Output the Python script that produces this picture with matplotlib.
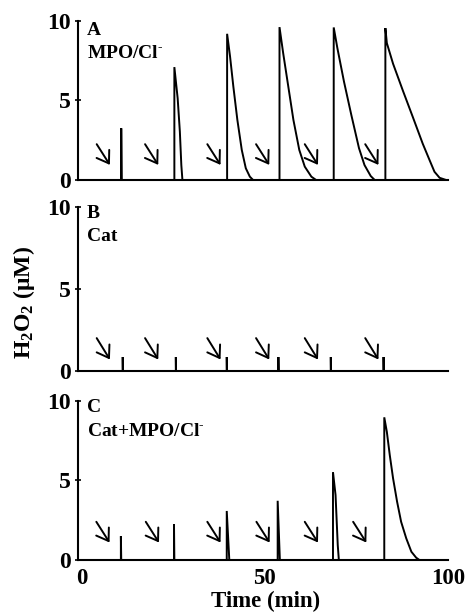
import matplotlib
matplotlib.use("Agg")
import matplotlib.pyplot as plt

plt.rcParams['font.family'] = ['Liberation Serif', 'DejaVu Serif']
plt.rcParams['font.weight'] = 'bold'
plt.rcParams['mathtext.fontset'] = 'custom'
plt.rcParams['mathtext.rm'] = 'Liberation Serif:bold'
plt.rcParams['mathtext.default'] = 'rm'

# panel A: MPO/Cl-  (time in min, H2O2 in uM)
tA = [0, 10.8, 10.8, 10.9,
      25.3, 25.3, 26.2, 26.8, 27.2, 27.5,
      39.7, 39.7, 40.5, 41.4, 42.5, 43.7, 44.8, 45.9, 46.8,
      54.0, 54.0, 55.0, 56.4, 57.8, 59.4, 60.9, 62.7, 64.0,
      68.8, 68.8, 69.8, 71.6, 73.6, 75.7, 77.2, 78.9, 80.0,
      82.9, 82.9, 83.3, 85.0, 87.7, 90.4, 93.1, 95.0, 96.3, 97.7, 99.5]
yA = [0, 0, 3.25, 0,
      0, 7.09, 5.13, 3.04, 0.94, 0,
      0, 9.18, 7.76, 5.87, 3.77, 1.89, 0.74, 0.21, 0,
      0, 9.6, 7.97, 5.87, 3.77, 1.89, 0.84, 0.21, 0,
      0, 9.58, 8.28, 6.18, 4.09, 2.0, 0.94, 0.25, 0,
      0, 9.54, 8.6, 7.3, 5.6, 3.95, 2.28, 1.23, 0.52, 0.14, 0]

# panel B: Cat
tB = [0, 11.2, 11.2, 11.25, 25.7, 25.7, 25.75, 39.6, 39.6, 39.65,
      53.7, 53.7, 53.75, 68.0, 68.0, 68.05, 82.4, 82.4, 82.45, 100]
yB = [0, 0, 0.85, 0, 0, 0.85, 0, 0, 0.85, 0,
      0, 0.85, 0, 0, 0.85, 0, 0, 0.85, 0, 0]

# panel C: Cat+MPO/Cl-
tC = [0, 10.7, 10.7, 10.8, 25.2, 25.2, 25.3, 39.6, 39.6, 40.3,
      53.5, 53.5, 54.1,
      68.6, 68.6, 69.3, 69.9, 70.2,
      82.6, 82.6, 83.3, 84.1, 85.0, 86.1, 87.2, 88.6, 90.0, 91.3, 92.2, 100]
yC = [0, 0, 1.5, 0, 0, 2.24, 0, 0, 3.08, 0,
      0, 3.72, 0,
      0, 5.52, 4.08, 0.94, 0,
      0, 8.96, 8.05, 6.59, 5.13, 3.66, 2.40, 1.36, 0.52, 0.15, 0, 0]

# addition times marked by arrows (tail x) and arrow tail height
arrowsA = [4.1, 17.3, 34.3, 47.6, 60.9, 77.4]
arrowsB = [4.1, 17.3, 34.3, 47.6, 60.9, 77.4]
arrowsC = [4.0, 17.5, 34.3, 47.7, 60.9, 74.1]
arrow_yA, arrow_yB, arrow_yC = 2.25, 2.0, 2.4

letters = ['A', 'B', 'C']
names = ['MPO/Cl$^{\u2010}$', 'Cat', 'Cat+MPO/Cl$^{\u2010}$']

fig = plt.figure(figsize=(4.68, 6.14), dpi=100)
axA = fig.add_axes([0.1667, 0.7068, 0.7906, 0.2594])
axB = fig.add_axes([0.1667, 0.3958, 0.7906, 0.2676])
axC = fig.add_axes([0.1667, 0.0879, 0.7906, 0.2594])

panels = [(axA, tA, yA, arrowsA, arrow_yA, 0.94, 0.797),
          (axB, tB, yB, arrowsB, arrow_yB, 0.96, 0.82),
          (axC, tC, yC, arrowsC, arrow_yC, 0.957, 0.805)]

for i, (ax, t, y, arr, ay, ly, ny) in enumerate(panels):
    ax.plot(t, y, color='k', lw=1.4, solid_joinstyle='miter')
    for a in arr:
        ax.annotate('', xy=(a + 3.6, ay - 1.3), xytext=(a, ay),
                    arrowprops=dict(arrowstyle='->,head_length=0.45,head_width=0.3',
                                    color='k', lw=1.4, mutation_scale=18,
                                    shrinkA=0, shrinkB=0))
    ax.set_xlim(-1, 100)
    ax.set_ylim(0, 10)
    ax.set_yticks([0, 5, 10])
    ax.set_yticklabels(['0', '5', '10'], fontsize=17, fontweight='bold')
    ax.tick_params(axis='y', direction='inout', length=5, width=1.2, pad=3)
    for s in ['top', 'right']:
        ax.spines[s].set_visible(False)
    for s in ['left', 'bottom']:
        ax.spines[s].set_linewidth(1.5)
    ax.text(0.024, ly, letters[i], transform=ax.transAxes, fontsize=14,
            fontweight='bold', va='center', ha='left')
    ax.text(0.024, ny, names[i], transform=ax.transAxes, fontsize=14,
            fontweight='bold', va='center', ha='left')
    if i < 2:
        ax.set_xticks([])
    else:
        ax.set_xticks([0, 50, 100])
        ax.set_xticklabels(['0', '50', '100'], fontsize=16.5, fontweight='bold')
        ax.tick_params(axis='x', length=0, pad=6)

fig.text(0.051, 0.507, 'H$_2$O$_2$ ($\\mathregular{\u03bc}$M)', rotation=90,
         fontsize=17, fontweight='bold', va='center', ha='center')
fig.text(0.567, 0.004, 'Time (min)', fontsize=16.5, fontweight='bold',
         va='bottom', ha='center')

fig.savefig('out.png', dpi=100)
